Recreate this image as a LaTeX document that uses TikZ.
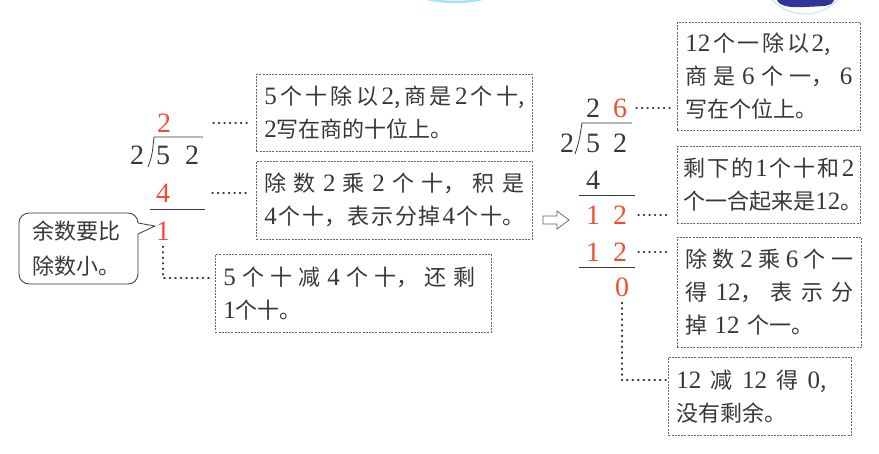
\documentclass[tikz,border=0pt]{standalone}
\usepackage{fontspec}
\setmainfont{Liberation Serif}
\newfontfamily\cjk{Noto Sans CJK SC}
\usetikzlibrary{positioning}
\setlength{\parindent}{0pt}
\definecolor{ink}{RGB}{55,55,55}
\definecolor{quored}{RGB}{238,80,50}
\newcommand{\dig}[1]{{\rmfamily\fontsize{25}{33}\selectfont #1}}
\newcommand{\spread}[2][\hsize]{\makebox[#1][s]{\spaceskip=0pt plus 1fil #2}}
\tikzset{
  note/.style={draw=black!60,dash pattern=on 2pt off 1.2pt,line width=0.7pt,anchor=north west,
    align=left,font=\cjk\fontsize{22}{33}\selectfont,text=ink,inner xsep=8pt,inner ysep=0pt},
  num/.style={font=\fontsize{28}{28}\selectfont,text=ink,inner sep=0pt},
  hot/.style={text=quored},
  rule/.style={draw=ink,line width=0.8pt},
  dots/.style={draw=ink,line width=1.8pt,line cap=round,dash pattern=on 0.8pt off 4.7pt},
}
\begin{document}
\begin{tikzpicture}[x=1pt,y=-1pt]
\useasboundingbox (0,0) rectangle (879,453);
% cut-off pictures at the top edge
\begin{scope}
\clip (0,0) rectangle (879,453);
\draw[cyan!35,line width=2.5pt] (455,-120) circle[radius=122];
\draw[cyan!30,line width=1pt] (805,-31) circle[radius=45];
\fill[blue!50!black!80] (777,0) .. controls (779,6) and (790,8) .. (805,7) -- (825,6) .. controls (832,4) .. (834,0) -- cycle;
\end{scope}
% first step: tens
\node[num,hot] (lq) at (164,123) {2};
\node[num] (ld) at (137,155) {2};
\node[num] (l5) at (163,155) {5};
\node[num] (l2) at (192,155) {2};
\node[num,hot] (l4) at (163,193) {4};
\node[num,hot] (l1) at (163,231) {1};
\draw[rule] (148,167) .. controls (152,156) .. (154,137) -- (203,137);
\draw[rule] (150,209) -- (205,209);
\node[note,text width=260pt,minimum height=77pt] (ta) at (256,74)
  {\spread{\dig{5} 个 十 除 以 \dig{2}, 商 是 \dig{2} 个 十,}\\\dig{2}写在商的十位上。};
\node[note,text width=260pt,minimum height=78pt] (tb) at (256,161)
  {\spread{除 数 \dig{2} 乘 \dig{2} 个 十， 积 是}\\\spread{\dig{4} 个 十， 表 示 分 掉 \dig{4} 个 十。}};
\node[note,text width=260pt,minimum height=78pt] (tc) at (215,254)
  {\spread[252pt]{\dig{5} 个 十 减 \dig{4} 个 十， 还 剩}\\\dig{1}个十。};
\draw[rule,rounded corners=10pt] (138,234) -- (138,284) -- (19,284) -- (19,213) -- (138,213) -- (138,223);
\draw[rule] (138,223) -- (155,226) -- (138,234);
\node[font=\cjk\fontsize{22}{35}\selectfont,text=ink,align=left] (bub) at (76,249) {余数要比\\除数小。};
% second step: ones
\draw[draw=ink!80,line width=0.7pt] (543,216) -- (557,216) -- (557,211) -- (569,220) -- (557,229) -- (557,224) -- (543,224) -- cycle;
\node[num] (rq2) at (593,108) {2};
\node[num,hot] (rq6) at (620,108) {6};
\node[num] (rd) at (567,143) {2};
\node[num] (r5) at (593,143) {5};
\node[num] (r2) at (620,143) {2};
\node[num] (r4) at (593,180) {4};
\node[num,hot] (rr1) at (593,215) {1};
\node[num,hot] (rr2) at (620,215) {2};
\node[num,hot] (rs1) at (593,252) {1};
\node[num,hot] (rs2) at (620,252) {2};
\node[num,hot] (r0) at (622,287) {0};
\draw[rule] (575,154) .. controls (579,142) .. (582,123) -- (632,123);
\draw[rule] (579,195) -- (635,195);
\draw[rule] (579,267) -- (635,267);
\node[note,text width=167pt,minimum height=108pt] (td) at (677,22)
  {\spread[145pt]{\dig{12} 个 一 除 以 \dig{2},}\\\spread{商 是 \dig{6} 个 一， \dig{6}}\\写在个位上。};
\node[note,text width=171pt,inner xsep=6pt,minimum height=77pt] (te) at (677,146)
  {\spread{剩 下 的 \dig{1} 个 十 和 \dig{2}}\\个一合起来是\dig{12}。};
\node[note,text width=168pt,minimum height=110pt] (tf) at (677,237)
  {\spread{除 数 \dig{2} 乘 \dig{6} 个 一}\\\spread{得 \dig{12}， 表 示 分}\\掉 \dig{12} 个一。};
\node[note,text width=167pt,minimum height=78pt] (tg) at (668,357)
  {\spread[150pt]{\dig{12} 减 \dig{12} 得 \dig{0},}\\没有剩余。};
% dotted leaders
\foreach \a/\b/\s in {lq/ta/42,l4/tb/42,rq6/td/9,rr2/te/11,rs2/tf/11}
  \draw[dots,shorten <=\s pt,shorten >=6pt] (\a.east) -- (\a.east -| \b.west);
\draw[dots,shorten <=6pt,shorten >=6pt] (l1.south) |- ([yshift=15pt]tc.west);
\draw[dots,shorten <=6pt,shorten >=2pt] (r0.south) |- ([yshift=16pt]tg.west);
\end{tikzpicture}
\end{document}
